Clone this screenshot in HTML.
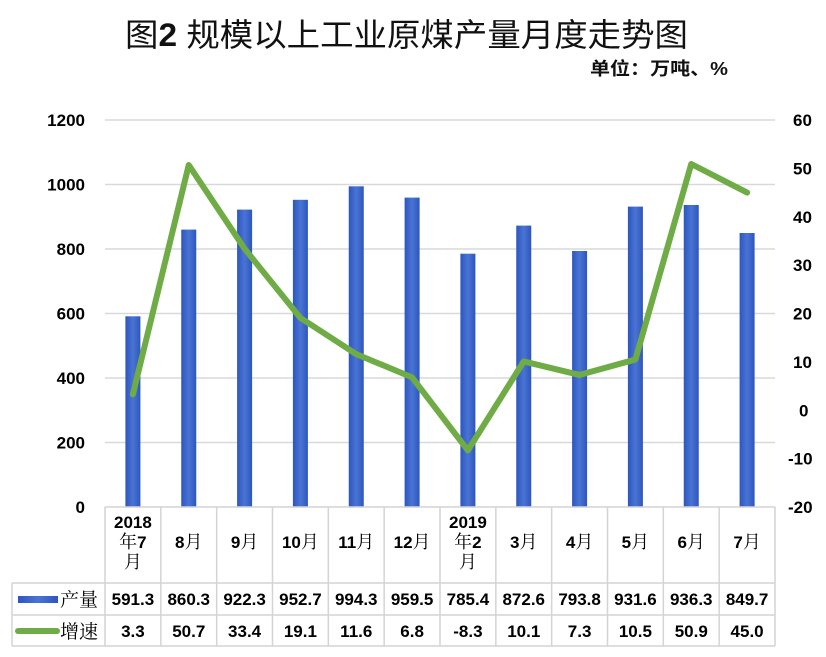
<!DOCTYPE html>
<html><head><meta charset="utf-8"><style>
html,body{margin:0;padding:0;background:#fff;}
svg{display:block;}
.num{font-family:"Liberation Sans",sans-serif;font-weight:bold;font-size:17px;fill:#000;}
.cjs{font-family:"Liberation Serif","Noto Serif CJK SC",serif;font-weight:normal;fill:#000;}
</style></head><body>
<svg width="826" height="657" viewBox="0 0 826 657" xmlns="http://www.w3.org/2000/svg">
<defs>
<linearGradient id="bg" x1="0" y1="0" x2="1" y2="0">
<stop offset="0" stop-color="#2c56c0"/><stop offset="0.5" stop-color="#4a74d2"/><stop offset="1" stop-color="#2c56c0"/>
</linearGradient>
</defs>
<rect width="826" height="657" fill="#fff"/>
<text x="125" y="46" font-family="'Liberation Sans','Noto Sans CJK SC',sans-serif" font-size="32" textLength="563" lengthAdjust="spacingAndGlyphs" fill="#111">图<tspan font-weight="bold">2</tspan> 规模以上工业原煤产量月度走势图</text>
<text x="590" y="75" font-family="'Liberation Sans','Noto Sans CJK SC',sans-serif" font-size="18" font-weight="bold" textLength="138" lengthAdjust="spacingAndGlyphs" fill="#111">单位：万吨、%</text>

<g stroke="#d9d9d9" stroke-width="1.5">
<line x1="105" y1="120" x2="775" y2="120"/>
<line x1="105" y1="184.5" x2="775" y2="184.5"/>
<line x1="105" y1="249" x2="775" y2="249"/>
<line x1="105" y1="313.5" x2="775" y2="313.5"/>
<line x1="105" y1="378" x2="775" y2="378"/>
<line x1="105" y1="442.5" x2="775" y2="442.5"/>
</g>

<g class="num" text-anchor="end">
<text x="85" y="126">1200</text>
<text x="85" y="190.5">1000</text>
<text x="85" y="255">800</text>
<text x="85" y="319.5">600</text>
<text x="85" y="384">400</text>
<text x="85" y="448.5">200</text>
<text x="85" y="513">0</text>
</g>
<g class="num">
<text x="793" y="126">60</text>
<text x="793" y="174.4">50</text>
<text x="793" y="222.8">40</text>
<text x="793" y="271.1">30</text>
<text x="793" y="319.5">20</text>
<text x="793" y="367.9">10</text>
<text x="799" y="416.3">0</text>
<text x="788" y="464.6">-10</text>
<text x="788" y="513">-20</text>
</g>

<g fill="url(#bg)">
<rect x="125.4" y="316.3" width="15" height="190.7"/>
<rect x="181.25" y="229.6" width="15" height="277.4"/>
<rect x="237.1" y="209.6" width="15" height="297.4"/>
<rect x="292.9" y="199.8" width="15" height="307.2"/>
<rect x="348.75" y="186.3" width="15" height="320.7"/>
<rect x="404.6" y="197.6" width="15" height="309.4"/>
<rect x="460.4" y="253.7" width="15" height="253.3"/>
<rect x="516.25" y="225.6" width="15" height="281.4"/>
<rect x="572.1" y="251" width="15" height="256"/>
<rect x="627.9" y="206.6" width="15" height="300.4"/>
<rect x="683.75" y="205" width="15" height="302"/>
<rect x="739.6" y="233" width="15" height="274"/>
</g>

<polyline fill="none" stroke="#6fac46" stroke-width="6" stroke-linejoin="round" stroke-linecap="round"
points="132.9,394.3 188.75,165 244.6,248.7 300.4,317.9 356.25,354.1 412.1,377.4 467.9,450.4 523.75,361.4 579.6,374.9 635.4,359.5 691.25,164 747.1,192.6"/>

<g stroke="#d4d4d4" stroke-width="1.5" fill="none">
<line x1="105" y1="507" x2="775" y2="507"/>
<line x1="12" y1="583" x2="775" y2="583"/>
<line x1="12" y1="615" x2="775" y2="615"/>
<line x1="12" y1="646" x2="775" y2="646"/>
<line x1="12" y1="583" x2="12" y2="646"/>
<line x1="105" y1="507" x2="105" y2="646"/>
<line x1="160.83" y1="507" x2="160.83" y2="646"/>
<line x1="216.67" y1="507" x2="216.67" y2="646"/>
<line x1="272.5" y1="507" x2="272.5" y2="646"/>
<line x1="328.33" y1="507" x2="328.33" y2="646"/>
<line x1="384.17" y1="507" x2="384.17" y2="646"/>
<line x1="440" y1="507" x2="440" y2="646"/>
<line x1="495.83" y1="507" x2="495.83" y2="646"/>
<line x1="551.67" y1="507" x2="551.67" y2="646"/>
<line x1="607.5" y1="507" x2="607.5" y2="646"/>
<line x1="663.33" y1="507" x2="663.33" y2="646"/>
<line x1="719.17" y1="507" x2="719.17" y2="646"/>
<line x1="775" y1="507" x2="775" y2="646"/>
</g>

<g class="num" text-anchor="middle">
<text x="132.9" y="528">2018</text>
<text x="132.9" y="548"><tspan class="cjs" font-size="18">年</tspan>7</text>
<text x="132.9" y="568"><tspan class="cjs" font-size="18">月</tspan></text>
<text x="188.75" y="548">8<tspan class="cjs" font-size="18">月</tspan></text>
<text x="244.6" y="548">9<tspan class="cjs" font-size="18">月</tspan></text>
<text x="300.4" y="548">10<tspan class="cjs" font-size="18">月</tspan></text>
<text x="356.25" y="548">11<tspan class="cjs" font-size="18">月</tspan></text>
<text x="412.1" y="548">12<tspan class="cjs" font-size="18">月</tspan></text>
<text x="467.9" y="528">2019</text>
<text x="467.9" y="548"><tspan class="cjs" font-size="18">年</tspan>2</text>
<text x="467.9" y="568"><tspan class="cjs" font-size="18">月</tspan></text>
<text x="523.75" y="548">3<tspan class="cjs" font-size="18">月</tspan></text>
<text x="579.6" y="548">4<tspan class="cjs" font-size="18">月</tspan></text>
<text x="635.4" y="548">5<tspan class="cjs" font-size="18">月</tspan></text>
<text x="691.25" y="548">6<tspan class="cjs" font-size="18">月</tspan></text>
<text x="747.1" y="548">7<tspan class="cjs" font-size="18">月</tspan></text>

<text x="132.9" y="605">591.3</text>
<text x="188.75" y="605">860.3</text>
<text x="244.6" y="605">922.3</text>
<text x="300.4" y="605">952.7</text>
<text x="356.25" y="605">994.3</text>
<text x="412.1" y="605">959.5</text>
<text x="467.9" y="605">785.4</text>
<text x="523.75" y="605">872.6</text>
<text x="579.6" y="605">793.8</text>
<text x="635.4" y="605">931.6</text>
<text x="691.25" y="605">936.3</text>
<text x="747.1" y="605">849.7</text>

<text x="132.9" y="637">3.3</text>
<text x="188.75" y="637">50.7</text>
<text x="244.6" y="637">33.4</text>
<text x="300.4" y="637">19.1</text>
<text x="356.25" y="637">11.6</text>
<text x="412.1" y="637">6.8</text>
<text x="467.9" y="637">-8.3</text>
<text x="523.75" y="637">10.1</text>
<text x="579.6" y="637">7.3</text>
<text x="635.4" y="637">10.5</text>
<text x="691.25" y="637">50.9</text>
<text x="747.1" y="637">45.0</text>
</g>

<rect x="18" y="596" width="40" height="7" fill="url(#bg)"/>
<text x="60" y="606" class="cjs" font-size="19">产量</text>
<line x1="18" y1="631" x2="57" y2="631" stroke="#6fac46" stroke-width="6" stroke-linecap="round"/>
<text x="60" y="638" class="cjs" font-size="19">增速</text>
</svg>
</body></html>
